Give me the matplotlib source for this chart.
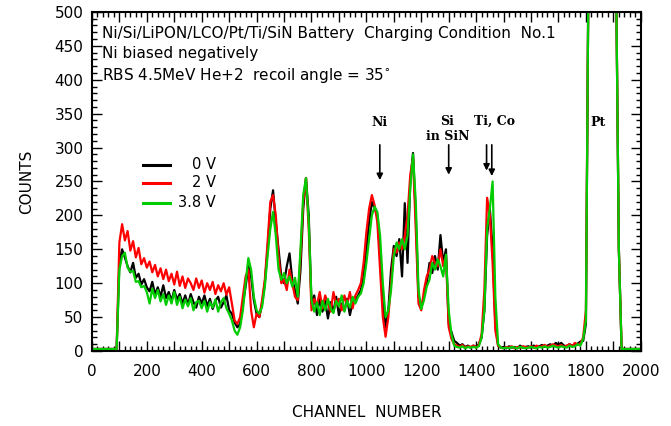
import numpy as np
import matplotlib
matplotlib.use("Agg")
import matplotlib.pyplot as plt
from matplotlib.ticker import MultipleLocator

# ---------------- data ----------------
channels = np.arange(0, 2001, 10)

base_lo = [3] * 10                      # ch 0..90
tail_hi = [3] * 8                       # ch 1930..2000
pt_peak = [600] * 10                    # ch 1810..1900 (off scale)

v0 = base_lo + [
    130, 150, 138, 125, 116, 130, 108, 114, 98, 106,    # 100-190
    94, 88, 102, 83, 94, 80, 97, 78, 87, 74,           # 200-290
    90, 76, 84, 70, 82, 68, 84, 72, 64, 80,            # 300-390
    70, 82, 66, 77, 62, 74, 80, 64, 72, 82,            # 400-490
    60, 55, 42, 35, 40, 70, 95, 125, 110, 75,          # 500-590
    55, 50, 70, 100, 150, 210, 237, 190, 150, 110,     # 600-690
    100, 125, 144, 105, 90, 70, 120, 210, 255, 200,    # 700-790
    70, 82, 53, 77, 58, 74, 48, 72, 58, 80,            # 800-890
    53, 70, 60, 77, 53, 72, 75, 82, 90, 110,           # 900-990
    150, 190, 220, 210, 200, 140, 70, 35, 60, 120,     # 1000-1090
    155, 140, 165, 110, 218, 130, 250, 292, 200, 80,   # 1100-1190
    65, 80, 100, 130, 115, 140, 120, 171, 130, 150,    # 1200-1290
    40, 28, 15, 12, 8, 10, 6, 8, 5, 8,                 # 1300-1390
    6, 10, 20, 60, 170, 210, 150, 40, 8, 5,            # 1400-1490
    6, 4, 7, 5, 6, 4, 8, 5, 6, 7,                      # 1500-1590
    5, 8, 6, 7, 9, 6, 8, 10, 7, 12,                    # 1600-1690
    9, 12, 8, 7, 10, 8, 9, 11, 14, 15,                 # 1700-1790
    40] + pt_peak + [550, 150] + tail_hi                # 1800, 1810-1920

v2 = base_lo + [
    160, 187, 163, 177, 148, 162, 138, 152, 128, 137,  # 100-190
    123, 132, 116, 127, 110, 122, 106, 120, 103, 114,  # 200-290
    98, 117, 96, 110, 93, 107, 100, 90, 107, 93,       # 300-390
    104, 86, 100, 90, 102, 84, 97, 88, 100, 83,        # 400-490
    94, 70, 45, 40, 50, 80, 110, 120, 60, 35,          # 500-590
    55, 50, 75, 105, 160, 220, 230, 200, 140, 100,     # 600-690
    105, 90, 120, 100, 80, 75, 140, 220, 255, 180,     # 700-790
    60, 77, 68, 87, 63, 82, 70, 58, 87, 68,            # 800-890
    77, 60, 82, 68, 87, 63, 82, 90, 100, 130,          # 900-990
    175, 210, 230, 215, 190, 120, 50, 21, 50, 100,     # 1000-1090
    150, 145, 160, 150, 170, 200, 260, 285, 180, 70,   # 1100-1190
    60, 90, 110, 120, 140, 130, 125, 150, 125, 140,    # 1200-1290
    35, 18, 10, 8, 6, 9, 5, 7, 6, 8,                   # 1300-1390
    5, 9, 25, 90, 226, 200, 130, 30, 8, 5,             # 1400-1490
    4, 6, 5, 7, 4, 6, 5, 7, 6, 5,                      # 1500-1590
    7, 5, 8, 6, 7, 9, 6, 8, 10, 8,                     # 1600-1690
    7, 9, 6, 8, 10, 7, 12, 9, 11, 20,                  # 1700-1790
    60] + pt_peak + [550, 150] + tail_hi

v38 = base_lo + [
    120, 140, 145, 123, 117, 118, 102, 103, 94, 96,    # 100-190
    87, 70, 92, 78, 90, 73, 84, 68, 82, 70,            # 200-290
    87, 68, 80, 63, 76, 66, 78, 60, 72, 74,            # 300-390
    63, 74, 58, 72, 64, 76, 58, 72, 78, 63,            # 400-490
    55, 45, 30, 24, 35, 60, 100, 137, 120, 80,         # 500-590
    60, 55, 65, 95, 140, 180, 205, 170, 120, 105,      # 600-690
    115, 100, 110, 95, 108, 80, 150, 230, 255, 190,    # 700-790
    75, 58, 72, 53, 74, 60, 77, 63, 56, 74,            # 800-890
    66, 82, 58, 74, 64, 80, 70, 80, 85, 100,           # 900-990
    130, 165, 200, 213, 205, 170, 100, 50, 60, 90,     # 1000-1090
    140, 160, 150, 165, 150, 170, 240, 290, 220, 90,   # 1100-1190
    62, 75, 95, 105, 130, 120, 135, 125, 110, 142,     # 1200-1290
    60, 25, 8, 6, 5, 7, 4, 6, 5, 6,                    # 1300-1390
    5, 7, 20, 60, 180, 210, 250, 80, 10, 5,            # 1400-1490
    4, 5, 4, 6, 5, 4, 6, 5, 4, 5,                      # 1500-1590
    6, 5, 4, 6, 5, 7, 5, 6, 8, 6,                      # 1600-1690
    5, 7, 6, 5, 8, 6, 7, 10, 8, 18,                    # 1700-1790
    45] + pt_peak + [550, 150] + tail_hi

series_labels = ["0 V", "2 V", "3.8 V"]
series_colors = ["#000000", "#ff0000", "#00cc00"]

title_lines = ["Ni/Si/LiPON/LCO/Pt/Ti/SiN Battery  Charging Condition  No.1",
               "Ni biased negatively",
               "RBS 4.5MeV He+2  recoil angle = 35$^{\\circ}$"]

peak_labels = ["Ni", "Si\nin SiN", "Ti, Co", "Pt"]
peak_label_x = [1049, 1295, 1466, 1843]
arrow_x = [1049, 1300, 1438, 1457]
arrow_tip = [252, 260, 266, 258]
arrow_top = 304

# ---------------- figure ----------------
fig = plt.figure(figsize=(6.71, 4.26), dpi=100)
ax = fig.add_axes([0.137, 0.176, 0.818, 0.796])

for vals, lab, col in zip([v0, v2, v38], series_labels, series_colors):
    ax.plot(channels, vals, color=col, lw=1.6, label=lab, solid_joinstyle="round")

ax.set_xlim(0, 2000)
ax.set_ylim(0, 500)

ax.xaxis.set_minor_locator(MultipleLocator(20))
ax.yaxis.set_major_locator(MultipleLocator(50))
ax.yaxis.set_minor_locator(MultipleLocator(10))
ax.tick_params(which="both", direction="in", top=True, right=True, width=1.0)
ax.tick_params(which="major", length=7)
ax.tick_params(which="minor", length=3.5)
ax.set_xticks(np.arange(0, 2001, 100))
ax.set_xticklabels([str(v) if v % 200 == 0 else "" for v in range(0, 2001, 100)])
ax.tick_params(axis="x", pad=9, labelsize=11)
ax.tick_params(axis="y", pad=6, labelsize=11)
for s in ax.spines.values():
    s.set_linewidth(1.5)

ax.set_xlabel("CHANNEL  NUMBER", fontsize=11, labelpad=19)
ax.set_ylabel("COUNTS", fontsize=11, labelpad=15)

for i, t in enumerate(title_lines):
    ax.text(0.018, 0.958 - i * 0.058, t, transform=ax.transAxes, fontsize=11,
            va="top", ha="left")

leg_y = [0.549, 0.496, 0.437]
for yy, lab, col in zip(leg_y, series_labels, series_colors):
    ax.plot([0.093, 0.142], [yy, yy], color=col, lw=2.2, transform=ax.transAxes)
    ax.text(0.226, yy, lab, transform=ax.transAxes, fontsize=10.5,
            ha="right", va="center")

ser = dict(family="DejaVu Serif", fontweight="bold", fontsize=9)
ax.text(peak_label_x[0], 337, peak_labels[0], ha="center", va="center", **ser)
ax.text(peak_label_x[1], 328, peak_labels[1], ha="center", va="center",
        linespacing=1.2, **ser)
ax.text(peak_label_x[2], 339, peak_labels[2], ha="center", va="center", **ser)
ax.text(peak_label_x[3], 337, peak_labels[3], ha="center", va="center", **ser)
for xa, tip in zip(arrow_x, arrow_tip):
    ax.annotate("", xy=(xa, tip), xytext=(xa, arrow_top),
                arrowprops=dict(arrowstyle="-|>", color="black", lw=1.2,
                                mutation_scale=9, shrinkA=0, shrinkB=0))

fig.savefig("out.png", dpi=100)
